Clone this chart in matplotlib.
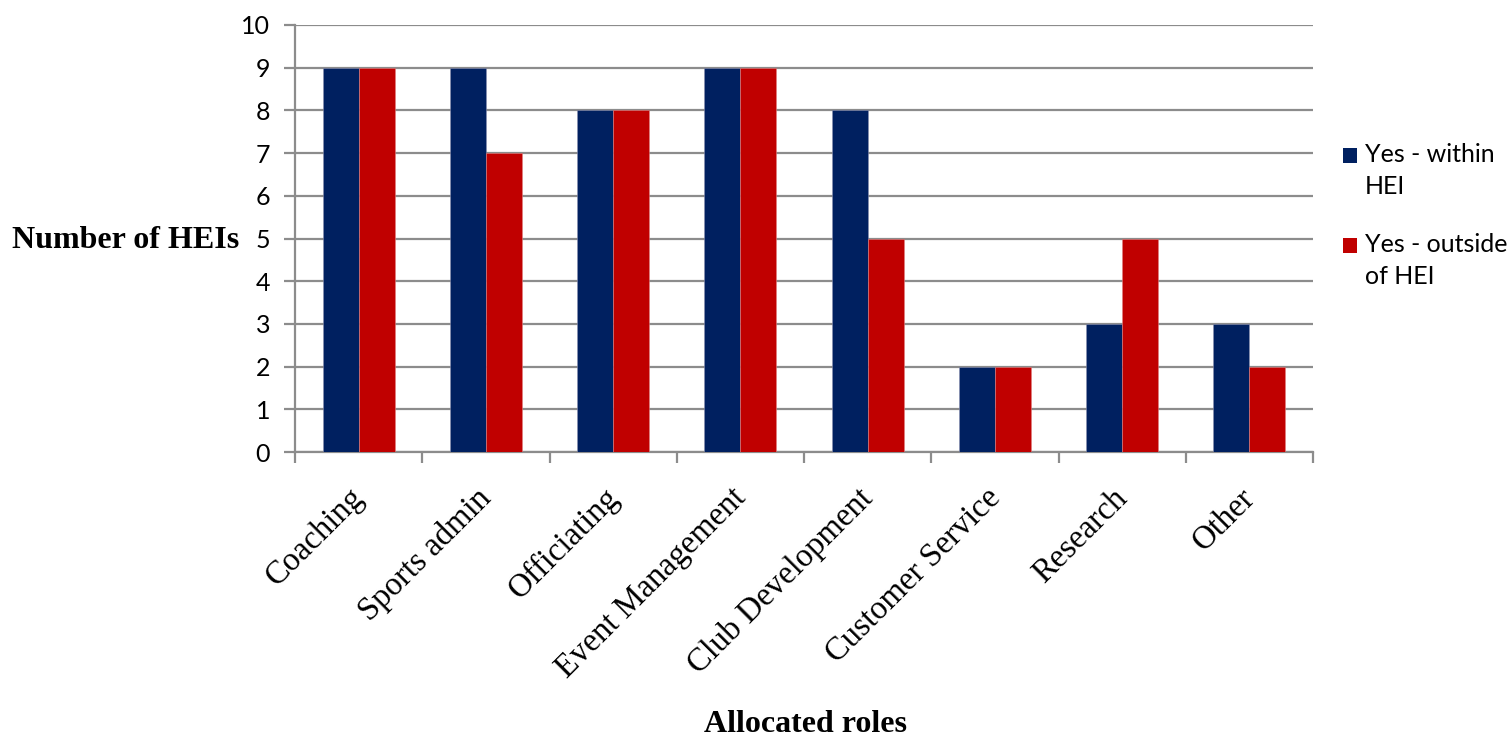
import matplotlib
matplotlib.use("Agg")
import matplotlib.pyplot as plt
import numpy as np
from matplotlib.patches import Rectangle

categories = ["Coaching", "Sports admin", "Officiating", "Event Management",
              "Club Development", "Customer Service", "Research", "Other"]
within_hei = [9, 9, 8, 9, 8, 2, 3, 3]
outside_hei = [9, 7, 8, 9, 5, 2, 5, 2]
series_names = ["Yes - within\nHEI", "Yes - outside\nof HEI"]
colors = ["#002060", "#C00000"]

fig = plt.figure(figsize=(15.12, 7.4), dpi=100)
ax = fig.add_axes([295/1512, 1-452/740, (1313-295)/1512, (452-25)/740])

x = np.arange(len(categories))
w = 0.283
ax.bar(x - w/2, within_hei, w, color=colors[0], edgecolor="#8a8fb0", linewidth=0.4, zorder=3)
ax.bar(x + w/2, outside_hei, w, color=colors[1], edgecolor="#e08080", linewidth=0.4, zorder=3)

ax.set_xlim(-0.5, len(categories) - 0.5)
ax.set_ylim(0, 10)
ax.set_yticks(range(0, 11))
ax.yaxis.grid(True, color="#8c8c8c", linewidth=1.6, zorder=0)
ax.set_axisbelow(True)

for s in ["top", "right"]:
    ax.spines[s].set_visible(False)
for s in ["left", "bottom"]:
    ax.spines[s].set_color("#8c8c8c")
    ax.spines[s].set_linewidth(1.6)

ax.tick_params(axis="y", length=8, width=1.6, color="#8c8c8c", pad=10,
               labelsize=18)
for lab in ax.get_yticklabels():
    lab.set_fontfamily("Lato")

ax.set_xticks(np.arange(-0.5, len(categories), 1.0))
ax.set_xticklabels([])
ax.tick_params(axis="x", length=8, width=1.6, color="#8c8c8c")
ax.set_xticks(x, minor=True)
ax.set_xticklabels(categories, minor=True, rotation=45, ha="right",
                   va="top", rotation_mode="anchor",
                   fontfamily="Liberation Serif", fontsize=23.5)
ax.tick_params(axis="x", which="minor", length=0, pad=22)
for lab in ax.get_xticklabels(minor=True):
    lab.set_transform(lab.get_transform() + matplotlib.transforms.ScaledTranslation(-10/100, 0, fig.dpi_scale_trans))

fig.text(12/1512, 1-240/740, "Number of HEIs", ha="left", va="center",
         fontfamily="Liberation Serif", fontweight="bold", fontsize=23)
fig.text(805/1512, 1-725/740, "Allocated roles", ha="center", va="center",
         fontfamily="Liberation Serif", fontweight="bold", fontsize=23)

# legend
sq_y = [148, 238]
for i, name in enumerate(series_names):
    fig.patches.append(Rectangle((1343/1512, 1-(sq_y[i]+15)/740), 14/1512, 15/740,
                                 transform=fig.transFigure, facecolor=colors[i],
                                 edgecolor="none"))
    fig.text(1365/1512, 1-(sq_y[i]-5)/740, name, ha="left", va="top",
             fontfamily="Lato", fontsize=18, linespacing=1.45)

fig.savefig("out.png", dpi=100)
